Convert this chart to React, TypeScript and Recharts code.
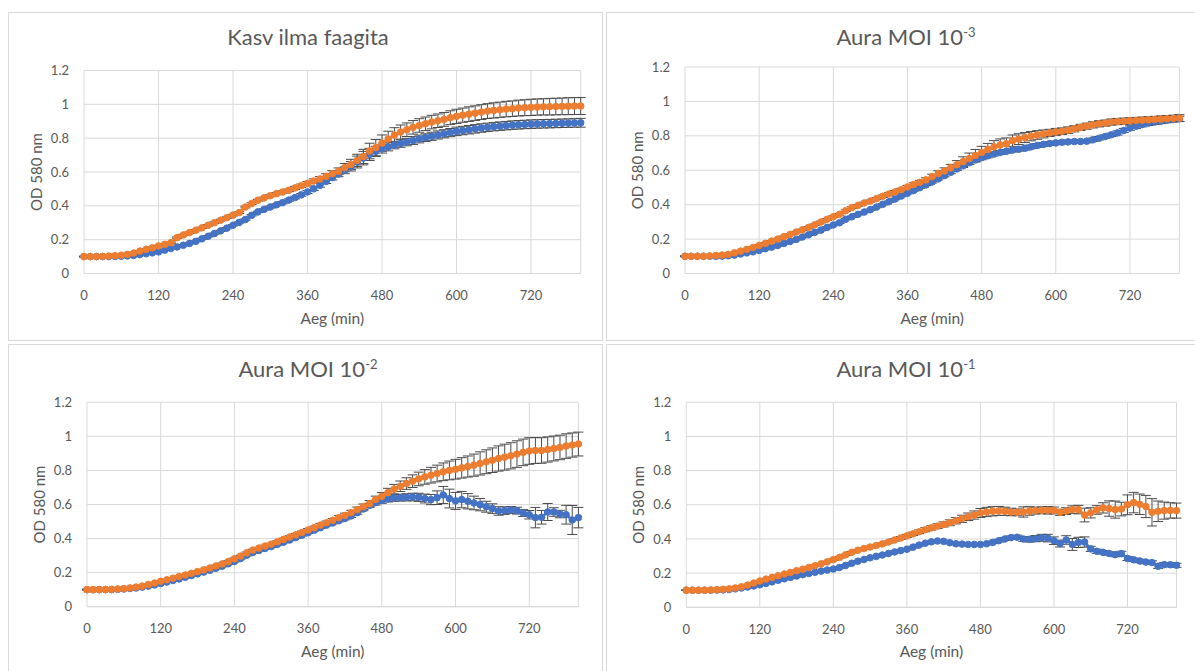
import React from 'react';
import { LineChart, Line, XAxis, YAxis, CartesianGrid, ErrorBar } from 'recharts';

// Sampling times (min)
const minutes = [
  0, 10, 20, 30, 40, 50, 60, 70, 80, 90,
  100, 110, 120, 130, 140, 150, 160, 170, 180, 190,
  200, 210, 220, 230, 240, 250, 260, 270, 280, 290,
  300, 310, 320, 330, 340, 350, 360, 370, 380, 390,
  400, 410, 420, 430, 440, 450, 460, 470, 480, 490,
  500, 510, 520, 530, 540, 550, 560, 570, 580, 590,
  600, 610, 620, 630, 640, 650, 660, 670, 680, 690,
  700, 710, 720, 730, 740, 750, 760, 770, 780, 790,
  800,
];

const xTicks = [0, 120, 240, 360, 480, 600, 720];
const yTicks = [0, 0.2, 0.4, 0.6, 0.8, 1, 1.2];

// ---- Kasv ilma faagita ----
const controlBlue = [
  0.100, 0.100, 0.100, 0.100, 0.100, 0.101, 0.102, 0.104, 0.107, 0.112,
  0.117, 0.122, 0.128, 0.138, 0.148, 0.157, 0.167, 0.178, 0.190, 0.205,
  0.220, 0.236, 0.252, 0.268, 0.285, 0.302, 0.319, 0.344, 0.364, 0.379,
  0.393, 0.406, 0.419, 0.434, 0.449, 0.465, 0.482, 0.501, 0.521, 0.544,
  0.567, 0.588, 0.610, 0.634, 0.659, 0.682, 0.704, 0.722, 0.738, 0.749,
  0.759, 0.768, 0.777, 0.786, 0.795, 0.803, 0.811, 0.819, 0.826, 0.833,
  0.840, 0.845, 0.850, 0.855, 0.860, 0.864, 0.868, 0.871, 0.874, 0.877,
  0.879, 0.881, 0.883, 0.884, 0.885, 0.886, 0.887, 0.888, 0.889, 0.890,
  0.891,
];
const controlOrange = [
  0.100, 0.100, 0.100, 0.101, 0.103, 0.105, 0.108, 0.113, 0.121, 0.133,
  0.143, 0.152, 0.163, 0.172, 0.182, 0.212, 0.228, 0.242, 0.256, 0.270,
  0.285, 0.300, 0.315, 0.330, 0.345, 0.360, 0.393, 0.413, 0.433, 0.447,
  0.460, 0.472, 0.482, 0.492, 0.506, 0.519, 0.533, 0.547, 0.559, 0.574,
  0.590, 0.604, 0.626, 0.645, 0.669, 0.692, 0.724, 0.744, 0.771, 0.795,
  0.818, 0.836, 0.850, 0.864, 0.875, 0.885, 0.895, 0.903, 0.911, 0.921,
  0.929, 0.936, 0.942, 0.948, 0.954, 0.960, 0.964, 0.968, 0.972, 0.974,
  0.978, 0.980, 0.982, 0.984, 0.985, 0.986, 0.987, 0.988, 0.989, 0.990,
  0.990,
];
const controlBlueErr = [
  0.002, 0.002, 0.002, 0.002, 0.002, 0.002, 0.002, 0.002, 0.002, 0.002,
  0.003, 0.003, 0.003, 0.003, 0.003, 0.003, 0.003, 0.003, 0.003, 0.003,
  0.004, 0.004, 0.004, 0.004, 0.004, 0.004, 0.004, 0.004, 0.004, 0.004,
  0.006, 0.006, 0.007, 0.007, 0.008, 0.008, 0.009, 0.010, 0.011, 0.012,
  0.014, 0.016, 0.020, 0.028, 0.035, 0.040, 0.036, 0.030, 0.026, 0.024,
  0.022, 0.022, 0.022, 0.023, 0.023, 0.023, 0.024, 0.024, 0.024, 0.024,
  0.025, 0.025, 0.025, 0.025, 0.025, 0.025, 0.025, 0.025, 0.025, 0.025,
  0.025, 0.025, 0.025, 0.025, 0.025, 0.025, 0.025, 0.025, 0.025, 0.025,
  0.026,
];
const controlOrangeErr = [
  0.002, 0.002, 0.002, 0.002, 0.002, 0.002, 0.002, 0.002, 0.002, 0.002,
  0.004, 0.004, 0.004, 0.004, 0.004, 0.004, 0.004, 0.004, 0.004, 0.004,
  0.005, 0.005, 0.005, 0.005, 0.005, 0.005, 0.005, 0.005, 0.005, 0.005,
  0.006, 0.007, 0.007, 0.008, 0.009, 0.010, 0.011, 0.012, 0.014, 0.016,
  0.018, 0.020, 0.024, 0.030, 0.036, 0.042, 0.046, 0.048, 0.048, 0.046,
  0.044, 0.042, 0.040, 0.040, 0.040, 0.040, 0.040, 0.040, 0.041, 0.041,
  0.042, 0.042, 0.043, 0.043, 0.044, 0.044, 0.045, 0.045, 0.046, 0.046,
  0.047, 0.047, 0.048, 0.048, 0.048, 0.049, 0.049, 0.049, 0.050, 0.050,
  0.050,
];

// ---- Aura MOI 10^-3 ----
const moi3Blue = [
  0.100, 0.100, 0.100, 0.100, 0.100, 0.100, 0.101, 0.103, 0.107, 0.113,
  0.120, 0.126, 0.134, 0.144, 0.153, 0.163, 0.175, 0.186, 0.198, 0.212,
  0.225, 0.239, 0.252, 0.268, 0.282, 0.295, 0.315, 0.330, 0.344, 0.357,
  0.371, 0.386, 0.402, 0.417, 0.433, 0.450, 0.466, 0.482, 0.499, 0.515,
  0.532, 0.550, 0.569, 0.588, 0.608, 0.626, 0.644, 0.660, 0.673, 0.684,
  0.694, 0.703, 0.710, 0.717, 0.722, 0.728, 0.736, 0.744, 0.750, 0.755,
  0.759, 0.763, 0.765, 0.767, 0.767, 0.769, 0.777, 0.786, 0.796, 0.806,
  0.817, 0.831, 0.845, 0.856, 0.866, 0.874, 0.880, 0.885, 0.891, 0.895,
  0.899,
];
const moi3Orange = [
  0.100, 0.100, 0.100, 0.100, 0.102, 0.105, 0.107, 0.111, 0.120, 0.130,
  0.140, 0.151, 0.163, 0.175, 0.188, 0.200, 0.214, 0.227, 0.241, 0.254,
  0.268, 0.283, 0.299, 0.315, 0.330, 0.344, 0.365, 0.383, 0.396, 0.410,
  0.421, 0.435, 0.449, 0.462, 0.474, 0.487, 0.503, 0.517, 0.530, 0.544,
  0.563, 0.581, 0.596, 0.614, 0.632, 0.650, 0.668, 0.686, 0.703, 0.720,
  0.736, 0.747, 0.754, 0.772, 0.781, 0.790, 0.798, 0.805, 0.811, 0.817,
  0.823, 0.827, 0.833, 0.841, 0.849, 0.856, 0.864, 0.870, 0.874, 0.880,
  0.883, 0.885, 0.887, 0.889, 0.891, 0.893, 0.895, 0.897, 0.899, 0.901,
  0.903,
];
const moi3BlueErr = [
  0.002, 0.002, 0.002, 0.002, 0.002, 0.002, 0.002, 0.002, 0.002, 0.002,
  0.004, 0.004, 0.004, 0.004, 0.004, 0.004, 0.004, 0.004, 0.004, 0.004,
  0.004, 0.004, 0.004, 0.004, 0.004, 0.004, 0.004, 0.004, 0.004, 0.004,
  0.004, 0.004, 0.004, 0.004, 0.004, 0.004, 0.004, 0.004, 0.004, 0.004,
  0.006, 0.006, 0.007, 0.008, 0.009, 0.010, 0.011, 0.012, 0.012, 0.012,
  0.011, 0.011, 0.011, 0.011, 0.011, 0.011, 0.011, 0.011, 0.011, 0.011,
  0.010, 0.010, 0.010, 0.010, 0.010, 0.010, 0.010, 0.010, 0.010, 0.010,
  0.012, 0.012, 0.013, 0.013, 0.014, 0.014, 0.014, 0.014, 0.015, 0.015,
  0.015,
];
const moi3OrangeErr = [
  0.002, 0.002, 0.002, 0.002, 0.002, 0.002, 0.002, 0.002, 0.002, 0.002,
  0.004, 0.004, 0.004, 0.004, 0.004, 0.004, 0.004, 0.004, 0.004, 0.004,
  0.005, 0.005, 0.005, 0.005, 0.005, 0.005, 0.005, 0.005, 0.005, 0.005,
  0.006, 0.006, 0.007, 0.007, 0.008, 0.008, 0.009, 0.010, 0.011, 0.012,
  0.014, 0.016, 0.018, 0.020, 0.024, 0.028, 0.032, 0.035, 0.036, 0.036,
  0.036, 0.035, 0.034, 0.033, 0.031, 0.029, 0.027, 0.025, 0.023, 0.021,
  0.020, 0.019, 0.019, 0.018, 0.018, 0.018, 0.018, 0.018, 0.018, 0.018,
  0.018, 0.018, 0.018, 0.018, 0.018, 0.018, 0.018, 0.019, 0.019, 0.019,
  0.020,
];

// ---- Aura MOI 10^-2 ----
const moi2Blue = [
  0.100, 0.100, 0.100, 0.100, 0.100, 0.102, 0.104, 0.107, 0.110, 0.115,
  0.121, 0.128, 0.136, 0.145, 0.154, 0.163, 0.173, 0.183, 0.193, 0.203,
  0.214, 0.226, 0.238, 0.252, 0.266, 0.283, 0.302, 0.318, 0.330, 0.342,
  0.353, 0.366, 0.379, 0.392, 0.406, 0.420, 0.434, 0.449, 0.464, 0.479,
  0.492, 0.505, 0.518, 0.533, 0.552, 0.574, 0.595, 0.611, 0.623, 0.633,
  0.639, 0.640, 0.642, 0.644, 0.642, 0.635, 0.629, 0.640, 0.656, 0.635,
  0.621, 0.629, 0.619, 0.609, 0.599, 0.587, 0.576, 0.562, 0.564, 0.568,
  0.564, 0.550, 0.540, 0.523, 0.525, 0.556, 0.556, 0.544, 0.540, 0.509,
  0.523,
];
const moi2Orange = [
  0.100, 0.100, 0.100, 0.101, 0.102, 0.104, 0.106, 0.110, 0.115, 0.121,
  0.130, 0.139, 0.149, 0.158, 0.167, 0.177, 0.186, 0.196, 0.206, 0.216,
  0.227, 0.239, 0.251, 0.265, 0.281, 0.297, 0.316, 0.332, 0.344, 0.356,
  0.367, 0.381, 0.395, 0.409, 0.422, 0.436, 0.450, 0.464, 0.479, 0.493,
  0.507, 0.523, 0.536, 0.552, 0.570, 0.587, 0.605, 0.629, 0.648, 0.670,
  0.690, 0.707, 0.723, 0.737, 0.750, 0.762, 0.772, 0.782, 0.792, 0.800,
  0.807, 0.815, 0.823, 0.831, 0.841, 0.851, 0.860, 0.870, 0.878, 0.886,
  0.896, 0.906, 0.914, 0.917, 0.917, 0.923, 0.929, 0.935, 0.943, 0.949,
  0.955,
];
const moi2BlueErr = [
  0.002, 0.002, 0.002, 0.002, 0.002, 0.002, 0.002, 0.002, 0.002, 0.002,
  0.003, 0.003, 0.003, 0.003, 0.003, 0.003, 0.003, 0.003, 0.003, 0.003,
  0.004, 0.004, 0.004, 0.004, 0.004, 0.004, 0.004, 0.004, 0.004, 0.004,
  0.005, 0.005, 0.005, 0.005, 0.005, 0.005, 0.005, 0.005, 0.005, 0.005,
  0.006, 0.007, 0.008, 0.009, 0.010, 0.011, 0.012, 0.014, 0.016, 0.018,
  0.020, 0.020, 0.021, 0.022, 0.024, 0.026, 0.030, 0.040, 0.050, 0.055,
  0.050, 0.048, 0.045, 0.040, 0.036, 0.032, 0.028, 0.025, 0.022, 0.020,
  0.020, 0.020, 0.025, 0.060, 0.040, 0.050, 0.025, 0.022, 0.055, 0.085,
  0.060,
];
const moi2OrangeErr = [
  0.002, 0.002, 0.002, 0.002, 0.002, 0.002, 0.002, 0.002, 0.002, 0.002,
  0.003, 0.003, 0.003, 0.003, 0.003, 0.003, 0.003, 0.003, 0.003, 0.003,
  0.005, 0.005, 0.005, 0.005, 0.005, 0.005, 0.005, 0.005, 0.005, 0.005,
  0.006, 0.006, 0.007, 0.007, 0.008, 0.008, 0.009, 0.009, 0.010, 0.010,
  0.011, 0.012, 0.013, 0.014, 0.015, 0.016, 0.018, 0.020, 0.022, 0.025,
  0.028, 0.031, 0.034, 0.037, 0.040, 0.043, 0.046, 0.049, 0.052, 0.055,
  0.058, 0.060, 0.062, 0.065, 0.068, 0.070, 0.072, 0.074, 0.076, 0.077,
  0.078, 0.078, 0.078, 0.076, 0.075, 0.074, 0.073, 0.072, 0.072, 0.071,
  0.070,
];

// ---- Aura MOI 10^-1 ----
const moi1Blue = [
  0.100, 0.100, 0.100, 0.100, 0.100, 0.101, 0.102, 0.104, 0.108, 0.113,
  0.119, 0.125, 0.132, 0.140, 0.149, 0.158, 0.167, 0.175, 0.183, 0.191,
  0.198, 0.205, 0.212, 0.218, 0.224, 0.233, 0.245, 0.258, 0.270, 0.280,
  0.290, 0.298, 0.306, 0.315, 0.324, 0.332, 0.340, 0.352, 0.364, 0.375,
  0.383, 0.388, 0.386, 0.378, 0.372, 0.370, 0.368, 0.368, 0.368, 0.372,
  0.380, 0.390, 0.400, 0.408, 0.410, 0.400, 0.398, 0.402, 0.407, 0.405,
  0.390, 0.373, 0.394, 0.368, 0.380, 0.382, 0.342, 0.328, 0.322, 0.315,
  0.308, 0.314, 0.286, 0.278, 0.271, 0.265, 0.262, 0.240, 0.250, 0.249,
  0.246,
];
const moi1Orange = [
  0.100, 0.100, 0.100, 0.100, 0.101, 0.103, 0.105, 0.108, 0.113, 0.120,
  0.130, 0.142, 0.154, 0.165, 0.175, 0.185, 0.195, 0.204, 0.214, 0.223,
  0.233, 0.243, 0.254, 0.266, 0.279, 0.292, 0.307, 0.322, 0.334, 0.344,
  0.353, 0.362, 0.371, 0.382, 0.394, 0.406, 0.418, 0.430, 0.442, 0.454,
  0.465, 0.475, 0.485, 0.495, 0.507, 0.518, 0.530, 0.540, 0.552, 0.558,
  0.562, 0.564, 0.562, 0.558, 0.556, 0.558, 0.564, 0.566, 0.568, 0.568,
  0.567, 0.556, 0.563, 0.572, 0.572, 0.540, 0.553, 0.570, 0.582, 0.578,
  0.572, 0.575, 0.600, 0.613, 0.603, 0.590, 0.556, 0.562, 0.566, 0.567,
  0.566,
];
const moi1BlueErr = [
  0.002, 0.002, 0.002, 0.002, 0.002, 0.002, 0.002, 0.002, 0.002, 0.002,
  0.003, 0.003, 0.003, 0.003, 0.003, 0.003, 0.003, 0.003, 0.003, 0.003,
  0.004, 0.004, 0.004, 0.004, 0.004, 0.004, 0.004, 0.004, 0.004, 0.004,
  0.005, 0.005, 0.005, 0.005, 0.005, 0.005, 0.005, 0.005, 0.005, 0.005,
  0.006, 0.006, 0.006, 0.006, 0.006, 0.006, 0.006, 0.006, 0.006, 0.006,
  0.007, 0.008, 0.009, 0.010, 0.012, 0.014, 0.016, 0.018, 0.020, 0.022,
  0.022, 0.020, 0.025, 0.035, 0.030, 0.030, 0.015, 0.012, 0.010, 0.010,
  0.012, 0.014, 0.012, 0.010, 0.010, 0.010, 0.010, 0.012, 0.012, 0.012,
  0.012,
];
const moi1OrangeErr = [
  0.002, 0.002, 0.002, 0.002, 0.002, 0.002, 0.002, 0.002, 0.002, 0.002,
  0.003, 0.003, 0.003, 0.003, 0.003, 0.003, 0.003, 0.003, 0.003, 0.003,
  0.004, 0.004, 0.004, 0.004, 0.004, 0.004, 0.004, 0.004, 0.004, 0.004,
  0.005, 0.005, 0.006, 0.006, 0.007, 0.008, 0.009, 0.010, 0.011, 0.012,
  0.013, 0.014, 0.015, 0.017, 0.019, 0.021, 0.022, 0.024, 0.026, 0.027,
  0.027, 0.026, 0.024, 0.022, 0.020, 0.030, 0.025, 0.020, 0.020, 0.022,
  0.020, 0.018, 0.020, 0.022, 0.025, 0.040, 0.030, 0.025, 0.030, 0.045,
  0.050, 0.040, 0.058, 0.060, 0.060, 0.065, 0.080, 0.060, 0.050, 0.045,
  0.044,
];

const BLUE = '#4472C4';
const ORANGE = '#ED7D31';
const TEXT = '#595959';
const GRID = '#d9d9d9';
const FONT = 'Lato, "Open Sans", "DejaVu Sans", sans-serif';

const PANEL_W = 595;
const PANEL_H = 329;
const Y_AXIS_W = 40;
const X_AXIS_H = 30;

type PanelSpec = {
  title: string;
  sup: string;
  box: [number, number];
  plot: [number, number, number, number]; // left, top, width, height (page coordinates)
  blue: number[];
  orange: number[];
  blueErr: number[];
  orangeErr: number[];
};

const panels: PanelSpec[] = [
  {
    title: 'Kasv ilma faagita', sup: '', box: [8, 12], plot: [84, 70.5, 496.7, 203],
    blue: controlBlue, orange: controlOrange, blueErr: controlBlueErr, orangeErr: controlOrangeErr,
  },
  {
    title: 'Aura MOI 10', sup: '-3', box: [606, 12], plot: [685, 67, 494.4, 206.5],
    blue: moi3Blue, orange: moi3Orange, blueErr: moi3BlueErr, orangeErr: moi3OrangeErr,
  },
  {
    title: 'Aura MOI 10', sup: '-2', box: [8, 344], plot: [87, 402.3, 491.4, 204.4],
    blue: moi2Blue, orange: moi2Orange, blueErr: moi2BlueErr, orangeErr: moi2OrangeErr,
  },
  {
    title: 'Aura MOI 10', sup: '-1', box: [606, 344], plot: [686.3, 402.3, 490.2, 205],
    blue: moi1Blue, orange: moi1Orange, blueErr: moi1BlueErr, orangeErr: moi1OrangeErr,
  },
];

const tickStyle = { fill: TEXT, fontSize: 13, fontFamily: FONT };

function GrowthPanel({ spec }: { spec: PanelSpec }) {
  const [bx, by] = spec.box;
  const [px, py, pw, ph] = spec.plot;
  const relLeft = px - bx;
  const relTop = py - by;
  const margin = {
    top: relTop,
    left: relLeft - Y_AXIS_W,
    right: PANEL_W - relLeft - pw,
    bottom: PANEL_H - relTop - ph - X_AXIS_H,
  };
  const data = minutes.map((t, i) => ({
    t,
    blue: spec.blue[i],
    orange: spec.orange[i],
    blueErr: spec.blueErr[i],
    orangeErr: spec.orangeErr[i],
  }));

  return (
    <>
      <div
        style={{
          position: 'absolute', left: bx, top: by, width: PANEL_W, height: PANEL_H,
          boxSizing: 'border-box', border: `1px solid ${GRID}`, background: '#fff',
        }}
      />
      <div style={{ position: 'absolute', left: bx, top: by, width: PANEL_W, height: PANEL_H }}>
        <LineChart width={PANEL_W} height={PANEL_H} data={data} margin={margin}>
          <CartesianGrid stroke={GRID} strokeWidth={1} />
          <XAxis
            type="number"
            dataKey="t"
            domain={[0, 800]}
            ticks={xTicks}
            interval={0}
            height={X_AXIS_H}
            tickLine={false}
            tickSize={0}
            tickMargin={17}
            axisLine={{ stroke: GRID, strokeWidth: 1 }}
            tick={tickStyle}
          />
          <YAxis
            type="number"
            domain={[0, 1.2]}
            ticks={yTicks}
            interval={0}
            width={Y_AXIS_W}
            tickLine={false}
            tickSize={0}
            tickMargin={15}
            axisLine={false}
            tick={tickStyle}
          />
          <Line
            type="linear"
            dataKey="blue"
            stroke={BLUE}
            strokeWidth={2.5}
            dot={{ r: 3.3, fill: BLUE, stroke: BLUE, strokeWidth: 1 }}
            activeDot={false}
            isAnimationActive={false}
          >
            <ErrorBar dataKey="blueErr" direction="y" width={5} stroke="#4a4a4a" strokeWidth={1} />
          </Line>
          <Line
            type="linear"
            dataKey="orange"
            stroke={ORANGE}
            strokeWidth={2.5}
            dot={{ r: 3.3, fill: ORANGE, stroke: ORANGE, strokeWidth: 1 }}
            activeDot={false}
            isAnimationActive={false}
          >
            <ErrorBar dataKey="orangeErr" direction="y" width={5} stroke="#4a4a4a" strokeWidth={1} />
          </Line>
        </LineChart>
      </div>
      <svg
        width={PANEL_W}
        height={PANEL_H}
        style={{ position: 'absolute', left: bx, top: by, pointerEvents: 'none', overflow: 'visible' }}
      >
        <text x={300} y={33} textAnchor="middle" fontFamily={FONT} fontSize={22} fill={TEXT}>
          {spec.title}
          {spec.sup ? <tspan dy={-8} fontSize={13}>{spec.sup}</tspan> : null}
        </text>
        <text
          x={relLeft - 48}
          y={relTop + ph / 2}
          transform={`rotate(-90 ${relLeft - 48} ${relTop + ph / 2})`}
          textAnchor="middle"
          dominantBaseline="central"
          fontFamily={FONT}
          fontSize={15}
          fill={TEXT}
        >
          OD 580 nm
        </text>
        <text
          x={relLeft + pw / 2}
          y={relTop + ph + 44}
          textAnchor="middle"
          dominantBaseline="central"
          fontFamily={FONT}
          fontSize={15.5}
          fill={TEXT}
        >
          Aeg (min)
        </text>
      </svg>
    </>
  );
}

export default function App() {
  return (
    <div
      style={{
        position: 'absolute', left: 0, top: 0, width: 1195, height: 671,
        overflow: 'hidden', background: '#fff', fontFamily: FONT,
      }}
    >
      {panels.map((p, i) => (
        <GrowthPanel key={i} spec={p} />
      ))}
    </div>
  );
}
